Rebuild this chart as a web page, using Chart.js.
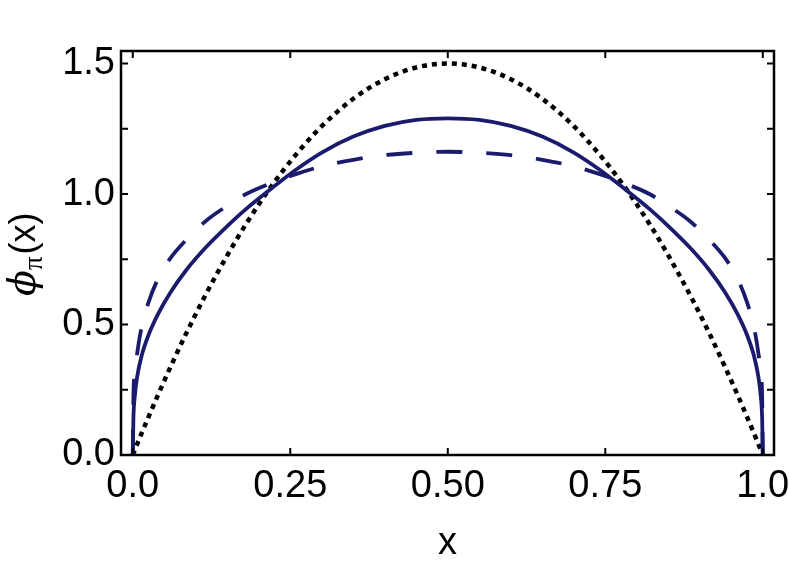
<!DOCTYPE html>
<html>
<head>
<meta charset="utf-8">
<script src="https://cdn.jsdelivr.net/npm/chart.js@4"></script>
<style>
  html, body { margin: 0; padding: 0; background: #ffffff; }
  #c { display: block; }
</style>
</head>
<body>
<canvas id="c" width="789" height="563"></canvas>
<script>
// ---- data ----
const xValues = [0, 0.001, 0.003, 0.007, 0.014, 0.025, 0.04, 0.06, 0.085, 0.115, 0.15, 0.18, 0.22, 0.26, 0.3, 0.35, 0.4, 0.45, 0.5,
                 0.55, 0.6, 0.65, 0.7, 0.74, 0.78, 0.82, 0.85, 0.885, 0.915, 0.94, 0.96, 0.975, 0.986, 0.993, 0.997, 0.999, 1];

const solidValues = [0, 0.14, 0.22, 0.30, 0.38, 0.46, 0.54, 0.624, 0.709, 0.793, 0.877, 0.943, 1.021, 1.095, 1.159, 1.22, 1.261, 1.284, 1.29,
                     1.284, 1.261, 1.22, 1.159, 1.095, 1.021, 0.943, 0.877, 0.793, 0.709, 0.624, 0.54, 0.46, 0.38, 0.30, 0.22, 0.14, 0];

const dashedValues = [0, 0.22, 0.31, 0.39, 0.49, 0.585, 0.675, 0.755, 0.825, 0.895, 0.955, 1.0, 1.042, 1.077, 1.106, 1.131, 1.149, 1.158, 1.162,
                      1.158, 1.149, 1.131, 1.106, 1.077, 1.042, 1.0, 0.955, 0.895, 0.825, 0.755, 0.675, 0.585, 0.49, 0.39, 0.31, 0.22, 0];

const dottedValues = [0, 0.006, 0.018, 0.042, 0.083, 0.146, 0.23, 0.338, 0.467, 0.611, 0.765, 0.886, 1.03, 1.154, 1.26, 1.365, 1.44, 1.485, 1.5,
                      1.485, 1.44, 1.365, 1.26, 1.154, 1.03, 0.886, 0.765, 0.611, 0.467, 0.338, 0.23, 0.146, 0.083, 0.042, 0.018, 0.006, 0];

const xTickValues = [0, 0.25, 0.5, 0.75, 1];
const xTickLabels = ['0.0', '0.25', '0.50', '0.75', '1.0'];
const yTickValues = [0, 0.25, 0.5, 0.75, 1, 1.25, 1.5];
const yTickLabels = ['0.0', '', '0.5', '', '1.0', '', '1.5'];

const xAxisTitle = 'x';
const yTitleMain = 'ϕ';
const yTitleSub = 'π';
const yTitleTail = '(x)';

// ---- styling ----
const NAVY = 'rgb(27,27,110)';
const TICK_FONT = { family: '"Liberation Sans", Arial, sans-serif', size: 38 };

function pts(ys) { return xValues.map((x, i) => ({ x: x, y: ys[i] })); }

const frameAndTicks = {
  id: 'frameAndTicks',
  afterDatasetsDraw(chart) {
    const { ctx, chartArea: a, scales } = chart;
    const L = 7;
    ctx.save();
    ctx.strokeStyle = '#000';
    ctx.lineWidth = 2;
    ctx.beginPath();
    xTickValues.forEach(v => {
      const px = scales.x.getPixelForValue(v);
      ctx.moveTo(px, a.bottom); ctx.lineTo(px, a.bottom - L);
      ctx.moveTo(px, a.top); ctx.lineTo(px, a.top + L);
    });
    yTickValues.forEach(v => {
      const py = scales.y.getPixelForValue(v);
      ctx.moveTo(a.left, py); ctx.lineTo(a.left + L, py);
      ctx.moveTo(a.right, py); ctx.lineTo(a.right - L, py);
    });
    ctx.stroke();
    ctx.lineWidth = 2.5;
    ctx.strokeRect(a.left, a.top, a.right - a.left, a.bottom - a.top);
    ctx.restore();
  },
  afterDraw(chart) {
    const { ctx, chartArea: a } = chart;
    ctx.save();
    ctx.fillStyle = '#000';
    // x-axis title
    ctx.font = '38px "Liberation Sans", Arial, sans-serif';
    ctx.textAlign = 'center';
    ctx.textBaseline = 'alphabetic';
    ctx.fillText(xAxisTitle, (a.left + a.right) / 2, 554);
    // y-axis title (rotated, with subscript)
    ctx.translate(35, 296);
    ctx.rotate(-Math.PI / 2);
    ctx.textAlign = 'left';
    ctx.font = 'italic 38px "DejaVu Serif", "Liberation Serif", serif';
    ctx.fillText(yTitleMain, 0, 0);
    let w = ctx.measureText(yTitleMain).width;
    ctx.font = '27px "Liberation Serif", "DejaVu Serif", serif';
    ctx.fillText(yTitleSub, w, 7);
    w += ctx.measureText(yTitleSub).width + 2;
    ctx.font = '36px "Liberation Sans", Arial, sans-serif';
    ctx.fillText(yTitleTail, w, 0);
    ctx.restore();
  }
};

new Chart(document.getElementById('c'), {
  type: 'line',
  data: {
    datasets: [
      { label: 'dashed', data: pts(dashedValues), borderColor: NAVY, borderWidth: 3.8, borderDash: [26, 24], borderCapStyle: 'butt',
        pointRadius: 0, fill: false, cubicInterpolationMode: 'monotone' },
      { label: 'solid', data: pts(solidValues), borderColor: NAVY, borderWidth: 3.8,
        pointRadius: 0, fill: false, cubicInterpolationMode: 'monotone' },
      { label: 'dotted', data: pts(dottedValues), borderColor: '#000', borderWidth: 4.5, borderDash: [5, 5], borderCapStyle: 'butt',
        pointRadius: 0, fill: false, cubicInterpolationMode: 'monotone' }
    ]
  },
  options: {
    responsive: false,
    animation: false,
    devicePixelRatio: 1,
    layout: { padding: { left: 0, right: 15, top: 51, bottom: 0 } },
    plugins: { legend: { display: false }, tooltip: { enabled: false } },
    scales: {
      x: {
        type: 'linear',
        min: -0.0187, max: 1.0178,
        grid: { display: false, drawTicks: false },
        border: { display: false },
        afterBuildTicks: s => { s.ticks = xTickValues.map(v => ({ value: v })); },
        afterFit: s => { s.height = 108; s.paddingLeft = 0; s.paddingRight = 0; },
        ticks: {
          autoSkip: false, maxRotation: 0, padding: 9, color: '#000', font: TICK_FONT,
          callback: (v, i) => xTickLabels[i]
        }
      },
      y: {
        type: 'linear',
        min: 0, max: 1.548,
        grid: { display: false, drawTicks: false },
        border: { display: false },
        afterBuildTicks: s => { s.ticks = yTickValues.map(v => ({ value: v })); },
        afterFit: s => { s.width = 121; s.paddingTop = 0; s.paddingBottom = 0; },
        ticks: {
          autoSkip: false, padding: 6, color: '#000', font: TICK_FONT,
          callback: (v, i) => yTickLabels[i]
        }
      }
    }
  },
  plugins: [frameAndTicks]
});
</script>
</body>
</html>
